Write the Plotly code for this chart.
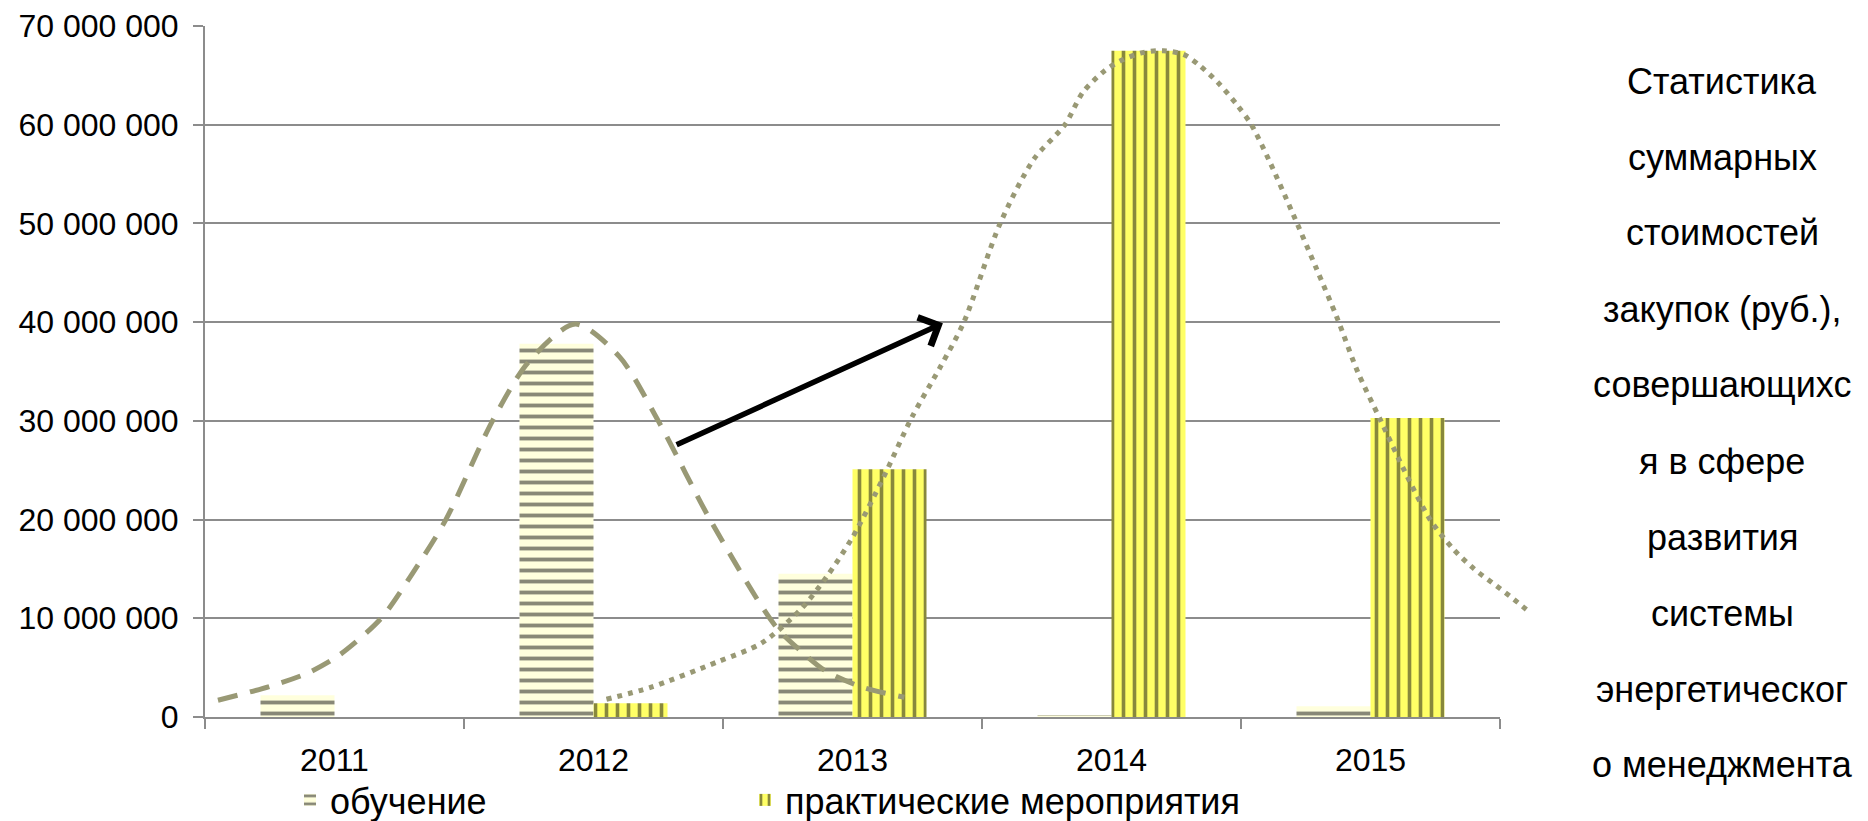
import plotly.graph_objects as go

# Annual procurement totals (rubles) by category
years = ["2011", "2012", "2013", "2014", "2015"]
training = [2.2e6, 37.8e6, 14.5e6, 0.2e6, 1.1e6]
practical = [0, 1.4e6, 25.1e6, 67.5e6, 30.3e6]

# Freehand trend curves, positions in category units (0 = 2011)
training_trend_x = [-0.45, -0.25, -0.1, 0.02, 0.18, 0.3, 0.43, 0.61, 0.75, 0.93,
                    1.1, 1.25, 1.45, 1.7, 1.8, 1.9, 2.04, 2.2]
training_trend_y = [1.7e6, 3.1e6, 4.5e6, 6.3e6, 10e6, 14.5e6, 20e6, 30e6, 36e6, 39.8e6,
                    36.5e6, 30e6, 20e6, 9.3e6, 6.7e6, 4.6e6, 3.0e6, 2.0e6]

practical_trend_x = [1.05, 1.22, 1.48, 1.65, 1.8, 1.9, 2.0, 2.12, 2.23, 2.34, 2.43, 2.57,
                     2.7, 2.82, 2.89, 2.975, 3.045, 3.12, 3.2, 3.28, 3.34, 3.41, 3.485,
                     3.54, 3.61, 3.7, 3.79, 3.87, 3.95, 4.04, 4.13, 4.23, 4.32, 4.4,
                     4.47, 4.54, 4.62]
practical_trend_y = [1.8e6, 3.0e6, 5.6e6, 7.5e6, 10.9e6, 14.2e6, 18.2e6, 24.3e6, 30.4e6,
                     35.5e6, 40e6, 50e6, 56.5e6, 60e6, 63.3e6, 65.5e6, 66.6e6, 67.3e6,
                     67.5e6, 67.1e6, 66.0e6, 64.3e6, 62e6, 60e6, 56.3e6, 51e6, 45.5e6,
                     40.5e6, 35e6, 30e6, 25e6, 20e6, 17e6, 15e6, 13.6e6, 12.2e6, 10.5e6]

side_text = ["Статистика", "суммарных", "стоимостей", "закупок (руб.),",
             "совершающихс", "я в сфере", "развития", "системы",
             "энергетическог", "о менеджмента"]

FONT = "Liberation Sans, Arial, sans-serif"
GRID = "#8c8c8c"
TREND = "#999975"

# Pixel geometry of the canvas
W, H = 1868, 821
ML, MR, MT, MB = 205, 268, 26, 104
PLOT_RIGHT = 1500
plot_w = W - ML - MR
plot_h = H - MT - MB
cat_px = (PLOT_RIGHT - ML) / len(years)

fig = go.Figure()

fig.add_trace(go.Bar(
    x=years, y=training, name="обучение", legend="legend",
    marker=dict(color="#FFFFDD", line=dict(width=0),
                pattern=dict(shape="-", fgcolor="#111111", bgcolor="#FFFFDD",
                             size=11, solidity=0.35)),
    xaxis="x", yaxis="y",
))
fig.add_trace(go.Bar(
    x=years, y=practical, name="практические мероприятия", legend="legend2",
    marker=dict(color="#FFFF66", line=dict(width=0),
                pattern=dict(shape="|", fgcolor="#111111", bgcolor="#FFFF66",
                             size=11, solidity=0.33)),
    xaxis="x", yaxis="y",
))

fig.add_trace(go.Scatter(
    x=training_trend_x, y=training_trend_y, mode="lines",
    line=dict(color=TREND, width=5, dash="20px,13px", shape="spline", smoothing=0.8),
    showlegend=False, hoverinfo="skip", xaxis="x2", yaxis="y2",
))
fig.add_trace(go.Scatter(
    x=practical_trend_x, y=practical_trend_y, mode="lines",
    line=dict(color=TREND, width=5, dash="5px,6px", shape="spline", smoothing=0.8),
    showlegend=False, hoverinfo="skip", xaxis="x2", yaxis="y2",
))

# Arrow between the two peaks
fig.add_annotation(
    x=2.349, y=39.9e6, ax=1.315, ay=27.5e6,
    xref="x2", yref="y2", axref="x2", ayref="y2",
    text="", showarrow=True, arrowhead=4, arrowsize=1.1, arrowwidth=5.5,
    arrowcolor="black", standoff=0, startstandoff=0,
)

# Caption column on the right
line_y0, line_step = 81, 76
for i, line in enumerate(side_text):
    py = line_y0 + i * line_step
    fig.add_annotation(
        x=(1722 - ML) / plot_w, y=(H - MB - py) / plot_h,
        xref="paper", yref="paper", text=line, showarrow=False,
        xanchor="center", yanchor="middle",
        font=dict(family=FONT, size=36, color="black"),
    )

legend_common = dict(
    orientation="h", xref="container", yref="container",
    xanchor="left", yanchor="middle", y=1 - 800 / H,
    font=dict(family=FONT, size=36, color="black"),
    bgcolor="rgba(0,0,0,0)",
)

x2_span = plot_w / cat_px
fig.update_layout(
    width=W, height=H,
    margin=dict(l=ML, r=MR, t=MT, b=MB, autoexpand=False),
    paper_bgcolor="white", plot_bgcolor="rgba(0,0,0,0)",
    separators=", ",
    barmode="group", bargap=1 - 148 / cat_px, bargroupgap=0,
    font=dict(family=FONT, color="black"),
    xaxis=dict(
        domain=[0, (PLOT_RIGHT - ML) / plot_w], anchor="y", automargin=False,
        type="category", tickson="boundaries", ticks="outside", ticklen=10,
        tickwidth=2, tickcolor=GRID, showline=True, linecolor=GRID, linewidth=2,
        showgrid=False, tickfont=dict(size=32, color="black"),
        ticklabelstandoff=14,
    ),
    yaxis=dict(
        domain=[0, 1], anchor="x", automargin=False,
        range=[0, 70e6], dtick=10e6, tickformat=",d",
        ticks="outside", ticklen=10, tickwidth=2, tickcolor=GRID,
        showline=True, linecolor=GRID, linewidth=2,
        showgrid=True, gridcolor=GRID, gridwidth=2, zeroline=False,
        tickfont=dict(size=32, color="black"), ticklabelstandoff=8,
    ),
    xaxis2=dict(domain=[0, 1], anchor="y2", range=[-0.5, -0.5 + x2_span],
                visible=False, fixedrange=True, automargin=False),
    yaxis2=dict(domain=[0, 1], anchor="x2", range=[0, 70e6],
                visible=False, fixedrange=True, automargin=False),
    legend=dict(legend_common, x=290 / W),
    legend2=dict(legend_common, x=745 / W),
    showlegend=True,
)

fig.write_html("out.html")
